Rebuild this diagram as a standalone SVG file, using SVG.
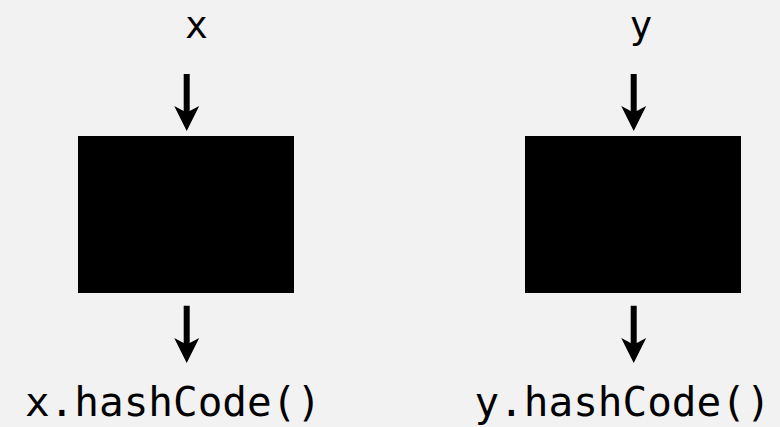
<svg xmlns="http://www.w3.org/2000/svg" width="780" height="427" viewBox="0 0 780 427">
<style>
.bg{fill:#f2f2f2}
.box{fill:#000}
.arrow{fill:#000}
.lbl{font-family:"DejaVu Sans Mono","Liberation Mono",monospace;fill:#000;text-anchor:middle}
.in{font-size:38px}
.out{font-size:41px}
</style>
<rect class="bg" x="0" y="0" width="780" height="427"/>
<g id="input-x"><text class="lbl in" x="196.5" y="38">x</text></g>
<g id="input-y"><text class="lbl in" x="641" y="38">y</text></g>
<g id="hash-x"><rect class="box" x="78" y="136" width="216" height="157"/></g>
<g id="hash-y"><rect class="box" x="525" y="136" width="216" height="157"/></g>
<g id="output-x"><text class="lbl out" x="173" y="416">x.hashCode()</text></g>
<g id="output-y"><text class="lbl out" x="622.5" y="416">y.hashCode()</text></g>
<g id="connectors">
<path class="arrow" d="M183.7,74 H189.7 V111 L199.2,106 L186.7,131 L174.2,106 L183.7,111 Z"/>
<path class="arrow" d="M183.7,305.7 H189.7 V343 L199.2,338 L186.7,363 L174.2,338 L183.7,343 Z"/>
<path class="arrow" d="M630.7,74 H636.7 V111 L646.2,106 L633.7,131 L621.2,106 L630.7,111 Z"/>
<path class="arrow" d="M630.7,305.7 H636.7 V343 L646.2,338 L633.7,363 L621.2,338 L630.7,343 Z"/>
</g>
</svg>
